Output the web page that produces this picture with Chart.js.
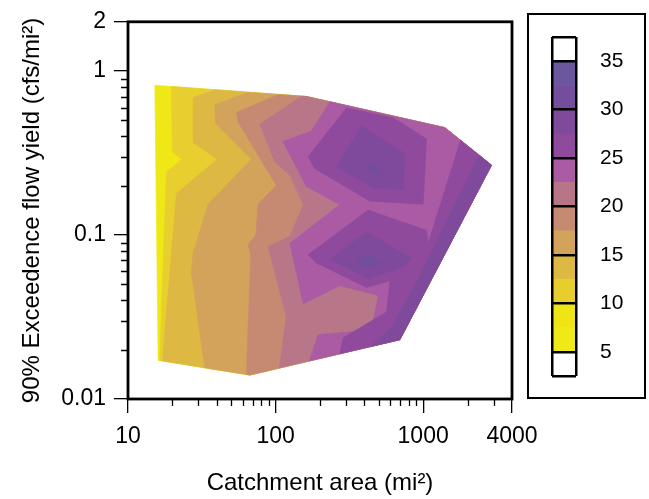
<!DOCTYPE html>
<html>
<head>
<meta charset="utf-8">
<script src="https://cdn.jsdelivr.net/npm/chart.js@4.4.1/dist/chart.umd.min.js"></script>
<style>
  body { margin: 0; background: #fff; }
  #wrap { position: relative; width: 649px; height: 499px; }
  #main { position: absolute; left: 0; top: 0; }
  #cbox { position: absolute; left: 527px; top: 13px; width: 115px; height: 382px; border: 2px solid #000; }
  #cbar { position: absolute; left: 0; top: 0; }
</style>
</head>
<body>
<div id="wrap">
  <canvas id="main" width="649" height="499"></canvas>
  <div id="cbox"><canvas id="cbar" width="115" height="382"></canvas></div>
</div>
<script>
// contour regions as [catchment area (mi2), 90% exceedence yield (cfs/mi2)]
// each region = area where the value is >= its level, painted lowest level first
const hull = [[15.2,0.821],[162,0.700],[1403,0.452],[2905,0.267],[695,0.0230],[66.8,0.0140],[16.0,0.0172]];
const ge10 = [[19.7,0.806],[162,0.700],[1403,0.452],[2905,0.267],[695,0.0230],[66.8,0.0140],[16.4,0.0172],[18.2,0.242],[23.2,0.290],[20.0,0.321]];
const ge12_5 = [[38.7,0.770],[162,0.700],[1403,0.452],[2905,0.267],[695,0.0230],[66.8,0.0140],[17.1,0.0171],[21.3,0.179],[40.2,0.290],[27.9,0.365],[27.6,0.690]];
const ge15 = [[65.1,0.742],[162,0.700],[1403,0.452],[2905,0.267],[695,0.0230],[66.8,0.0140],[33.1,0.0155],[26.9,0.0589],[27.6,0.0776],[34.9,0.154],[68.6,0.290],[39.3,0.480],[38.7,0.624]];
const ge17_5 = [[104,0.719],[162,0.700],[1403,0.452],[2905,0.267],[695,0.0230],[66.8,0.0140],[63.4,0.0142],[67.9,0.0758],[65.1,0.0877],[73.4,0.0998],[76.1,0.154],[101,0.201],[55.7,0.489],[54.3,0.561]];
const ge20 = [[150,0.703],[162,0.700],[1403,0.452],[2905,0.267],[695,0.0230],[106,0.0155],[118,0.0318],[89.0,0.0850],[125,0.0984],[154,0.153],[125,0.231],[98.6,0.280],[78.1,0.474]];
const ge22_5 = [[233,0.650],[1403,0.452],[2905,0.267],[695,0.0230],[170,0.0171],[194,0.0247],[447,0.0264],[496,0.0428],[272,0.0491],[154,0.0381],[125,0.0890],[272,0.153],[162,0.198],[112,0.372],[175,0.432]];
const ge25_upper = [[166,0.300],[302,0.596],[627,0.519],[1054,0.386],[1000,0.154],[436,0.161],[184,0.255]];
const ge25_lower = [[166,0.0758],[424,0.142],[1054,0.107],[1081,0.0890],[1793,0.379],[2905,0.267],[695,0.0230],[272,0.0189],[287,0.0236],[565,0.0340],[595,0.0525],[413,0.0479],[189,0.0676]];
const ge27_5_upper = [[258,0.261],[382,0.463],[752,0.314],[733,0.190],[459,0.194]];
const ge27_5_lower = [[235,0.0714],[413,0.1044],[834,0.0724],[752,0.0645],[424,0.0542]];
const ge27_5_edge = [[2401,0.307],[2905,0.267],[695,0.0230],[441,0.0209],[602,0.0270],[855,0.0469]];
const ge30_upper = [[424,0.273],[496,0.261],[523,0.238],[447,0.242]];
const ge30_lower = [[354,0.0692],[424,0.0776],[523,0.0676],[413,0.0631]];

const fillColors = ['#F0E816','#E8CE2E','#DDB842','#D4A35B','#C68A72','#B87788','#AA5BA3','#8F4A9D','#7F4A9C','#724E9E'];

const xTicks = [10, 100, 1000, 4000];
const yTicks = [0.01, 0.1, 1, 2];
const minorX = [20,30,40,50,60,70,80,90,200,300,400,500,600,700,800,900,2000,3000];
const minorY = [0.02,0.03,0.04,0.05,0.06,0.07,0.08,0.09,0.2,0.3,0.4,0.5,0.6,0.7,0.8,0.9];

// colour bar
const cbBounds = [2.5,5,7.5,10,12.5,15,17.5,20,22.5,25,27.5,30,32.5,35,37.5];
const cbColors = ['#ffffff','#F0E918','#EFE514','#E8CD2E','#DDB843','#D3A35C','#C68A72','#B87587','#AA5BA3','#8F4A9D','#7F4A9C','#744E9D','#6B579E','#ffffff'];
const cbTicks = [5,10,15,20,25,30,35];
const cbLines = [2.5,5,10,15,20,25,30,35,37.5];

const fam = "'Liberation Sans', Arial, sans-serif";

const bands = [
  [hull], [ge10], [ge12_5], [ge15], [ge17_5], [ge20], [ge22_5],
  [ge25_upper, ge25_lower], [ge27_5_upper, ge27_5_lower, ge27_5_edge], [ge30_upper, ge30_lower]
];

const datasets = [];
bands.forEach((polys, i) => {
  polys.forEach(p => {
    datasets.push({
      data: p.concat([p[0]]).map(v => ({ x: v[0], y: v[1] })),
      fill: 'shape',
      backgroundColor: fillColors[i],
      borderColor: fillColors[i],
      borderWidth: 0.6,
      pointRadius: 0,
      tension: 0
    });
  });
});
datasets.reverse(); // first dataset is drawn on top

const frameTicks = {
  id: 'frameTicks',
  afterDraw(chart) {
    const { ctx, chartArea: a, scales } = chart;
    ctx.save();
    ctx.strokeStyle = '#000';
    ctx.lineWidth = 1.3;
    ctx.beginPath();
    minorX.forEach(v => {
      const px = Math.round(scales.x.getPixelForValue(v)) + 0.5;
      ctx.moveTo(px, a.bottom);
      ctx.lineTo(px, a.bottom + 7);
    });
    minorY.forEach(v => {
      const py = Math.round(scales.y.getPixelForValue(v)) + 0.5;
      ctx.moveTo(a.left, py);
      ctx.lineTo(a.left - 7, py);
    });
    ctx.stroke();
    ctx.lineWidth = 2.8;
    ctx.strokeRect(a.left, a.top, a.right - a.left, a.bottom - a.top);
    ctx.restore();
  }
};

new Chart(document.getElementById('main'), {
  type: 'line',
  data: { datasets: datasets },
  options: {
    responsive: false,
    animation: false,
    layout: { padding: { left: 0, right: 137, top: 14, bottom: 0 } },
    plugins: { legend: { display: false }, tooltip: { enabled: false } },
    scales: {
      x: {
        type: 'logarithmic', min: 10, max: 4000,
        afterBuildTicks: s => { s.ticks = xTicks.map(v => ({ value: v })); },
        afterFit: s => { s.height = 100; },
        ticks: { callback: v => String(v), color: '#000', font: { size: 23, family: fam }, padding: 10, maxRotation: 0, autoSkip: false },
        grid: { drawOnChartArea: false, color: '#000', lineWidth: 1.3, tickLength: 14 },
        border: { color: '#000', width: 2 },
        title: { display: true, text: 'Catchment area (mi²)', color: '#000', font: { size: 24, family: fam }, padding: { top: 0, bottom: 1 } }
      },
      y: {
        type: 'logarithmic', min: 0.01, max: 2,
        afterBuildTicks: s => { s.ticks = yTicks.map(v => ({ value: v })); },
        afterFit: s => { s.width = 128; },
        ticks: { callback: v => String(v), color: '#000', font: { size: 23, family: fam }, padding: 8, autoSkip: false },
        grid: { drawOnChartArea: false, color: '#000', lineWidth: 1.3, tickLength: 14 },
        border: { color: '#000', width: 2 },
        title: { display: true, text: '90% Exceedence flow yield (cfs/mi²)', color: '#000', font: { size: 24, family: fam }, padding: { top: 18, bottom: 0 } }
      }
    }
  },
  plugins: [frameTicks]
});

new Chart(document.getElementById('cbar'), {
  type: 'bar',
  data: {
    labels: [''],
    datasets: cbColors.map((c, i) => ({
      data: [[cbBounds[i], cbBounds[i + 1]]],
      backgroundColor: c,
      borderWidth: 0,
      grouped: false,
      barPercentage: 1,
      categoryPercentage: 1
    }))
  },
  options: {
    responsive: false,
    animation: false,
    layout: { padding: { left: 23, top: 22, bottom: 21, right: 0 } },
    plugins: { legend: { display: false }, tooltip: { enabled: false } },
    scales: {
      x: {
        grid: { z: 1, color: '#000', lineWidth: 2.5, offset: true, drawTicks: false },
        ticks: { display: false },
        border: { display: false },
        afterFit: s => { s.height = 0; s.paddingLeft = 0; s.paddingRight = 0; }
      },
      y: {
        position: 'right', min: 2.5, max: 37.5,
        afterBuildTicks: s => { s.ticks = cbLines.map(v => ({ value: v })); },
        afterFit: s => { s.width = 68; s.paddingTop = 0; s.paddingBottom = 0; },
        ticks: { callback: v => cbTicks.includes(v) ? String(v) : '', color: '#000', font: { size: 21, family: fam }, padding: 24, autoSkip: false },
        grid: { z: 1, color: '#000', lineWidth: 2.5, drawTicks: false },
        border: { display: false }
      }
    }
  }
});
</script>
</body>
</html>
